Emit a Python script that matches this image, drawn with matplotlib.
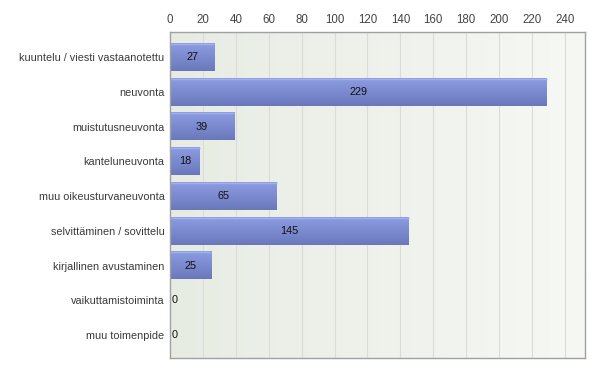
import matplotlib
matplotlib.use("Agg")
import matplotlib.pyplot as plt
import numpy as np
from matplotlib.colors import LinearSegmentedColormap

categories = ["kuuntelu / viesti vastaanotettu", "neuvonta", "muistutusneuvonta",
              "kanteluneuvonta", "muu oikeusturvaneuvonta", "selvittäminen / sovittelu",
              "kirjallinen avustaminen", "vaikuttamistoiminta", "muu toimenpide"]
values = [27, 229, 39, 18, 65, 145, 25, 0, 0]
xticks = [0, 20, 40, 60, 80, 100, 120, 140, 160, 180, 200, 220, 240]

plt.rcParams['font.family'] = ['Liberation Sans', 'DejaVu Sans']

fig = plt.figure(figsize=(6, 3.73), dpi=100)
ax = fig.add_axes([170/600, 15/373, 415/600, 326/373])

xmax = 252.2
ymin, ymax = 8.66, -0.72
ax.set_xlim(0, xmax)
ax.set_ylim(ymin, ymax)

# background gradient
bg = LinearSegmentedColormap.from_list("bg", ["#e7ece3", "#f6f8f4"])
grad = np.linspace(0, 1, 256).reshape(1, -1)
ax.imshow(grad, cmap=bg, extent=[0, xmax, ymin, ymax], aspect='auto', zorder=0)

for x in xticks[1:]:
    ax.axvline(x, color="#dadcd8", lw=0.8, zorder=1)

barcm = LinearSegmentedColormap.from_list("bar", ["#8d9de3", "#6a78bb"])
vgrad = np.linspace(0, 1, 64).reshape(-1, 1)
h = 0.8
for i, v in enumerate(values):
    if v > 0:
        ax.imshow(vgrad, cmap=barcm, extent=[0, v, i + h/2, i - h/2],
                  aspect='auto', zorder=2)
        ax.plot([0, v], [i - h/2 + 0.02, i - h/2 + 0.02], color="#a3b0ee",
                lw=1, zorder=2.5, solid_capstyle='butt')
        ax.text(v/2, i, str(v), ha='center', va='center', fontsize=7.8,
                color='#111111', zorder=3)
    else:
        ax.text(1.2, i, str(v), ha='left', va='center', fontsize=7.8,
                color='#111111', zorder=3)

ax.set_xlim(0, xmax)
ax.set_ylim(ymin, ymax)
ax.set_xticks(xticks)
ax.xaxis.tick_top()
ax.tick_params(axis='x', length=0, pad=4, labelsize=8.3, labelcolor='#444444')
ax.set_yticks(range(len(categories)))
ax.set_yticklabels(categories)
ax.tick_params(axis='y', length=0, pad=4, labelsize=7.8, labelcolor='#3a3a3a')
for s in ax.spines.values():
    s.set_color('#a0a0a0')
    s.set_linewidth(1)

fig.savefig("out.png", dpi=100)
